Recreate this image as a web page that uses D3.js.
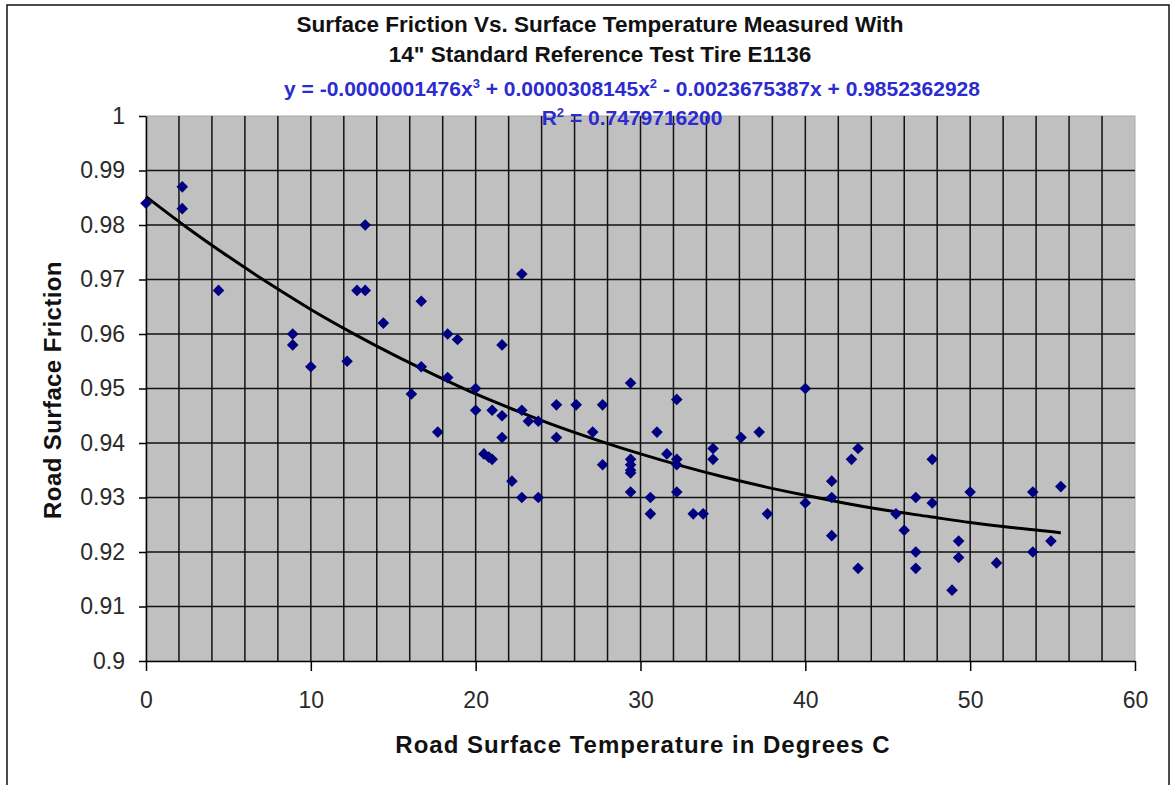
<!DOCTYPE html>
<meta charset="utf-8">
<style type="text/css">
body {
  margin: 0;
  background: #fff;
  font-family: Arial, "Liberation Sans", sans-serif;
}

.title {
  font-weight: bold;
  font-size: 22.5px;
  fill: #111;
}

.eq {
  font-weight: bold;
  font-size: 21px;
  fill: #2b2bd0;
}

.axis text {
  font-size: 23px;
  fill: #2a2a2a;
}

.axis path,
.axis line {
  stroke: #000;
  stroke-width: 1.5px;
}

.grid line {
  stroke: #111;
  stroke-width: 1.5px;
}

.label {
  font-weight: bold;
  font-size: 24px;
  fill: #111;
}
</style>
<body>
</body>

<script src="https://cdn.jsdelivr.net/npm/d3@7"></script>
<script>
// measured points: temperature (C) and friction
var temps = [0, 2.2, 2.2, 4.4, 8.9, 8.9, 10, 12.2, 12.8, 13.3, 13.3, 14.4,
  16.7, 18.3, 18.9, 21.6, 22.8, 16.7, 18.3, 16.1, 20, 29.4, 32.2, 40,
  17.7, 20, 21, 21.6, 21.6, 22.8, 23.2, 23.8, 24.9, 24.9, 26.1, 27.7, 27.1, 27.7,
  20.5, 20.8, 21, 22.2, 22.8, 23.8,
  29.4, 29.4, 29.4, 29.4, 29.4, 30.6, 30.6, 31, 31.6, 32.2, 32.2, 32.2,
  33.2, 33.8, 34.4, 34.4, 36.1, 37.2, 37.7,
  40, 41.6, 41.6, 41.6, 42.8, 43.2, 43.2, 45.5, 46, 46.7, 46.7, 46.7,
  47.7, 47.7, 48.9, 49.3, 49.3, 50, 51.6, 53.8, 53.8, 54.9, 55.5];
var friction = [0.984, 0.987, 0.983, 0.968, 0.960, 0.958, 0.954, 0.955, 0.968, 0.968, 0.980, 0.962,
  0.966, 0.960, 0.959, 0.958, 0.971, 0.954, 0.952, 0.949, 0.950, 0.951, 0.948, 0.950,
  0.942, 0.946, 0.946, 0.945, 0.941, 0.946, 0.944, 0.944, 0.947, 0.941, 0.947, 0.947, 0.942, 0.936,
  0.938, 0.9374, 0.937, 0.933, 0.930, 0.930,
  0.937, 0.936, 0.935, 0.9345, 0.931, 0.930, 0.927, 0.942, 0.938, 0.937, 0.936, 0.931,
  0.927, 0.927, 0.939, 0.937, 0.941, 0.942, 0.927,
  0.929, 0.933, 0.930, 0.923, 0.937, 0.939, 0.917, 0.927, 0.924, 0.930, 0.920, 0.917,
  0.937, 0.929, 0.913, 0.922, 0.919, 0.931, 0.918, 0.931, 0.920, 0.922, 0.932];

// trend line as drawn (3rd order polynomial fit)
var trendX = [0, 2.5, 5, 7.5, 10, 12.5, 15, 17.5, 20, 22.5, 25, 27.5, 30, 32.5,
  35, 37.5, 40, 42.5, 45, 47.5, 50, 52.5, 55, 55.5];
var trendY = [0.9852, 0.9795, 0.9742, 0.9692, 0.9645, 0.9602, 0.9562, 0.9525, 0.9490,
  0.9459, 0.9430, 0.9404, 0.9380, 0.9358, 0.9338, 0.9320, 0.9304, 0.9289, 0.9276,
  0.9265, 0.9254, 0.9245, 0.9237, 0.9235];

var xTicks = [0, 10, 20, 30, 40, 50, 60];
var xGrid = d3.range(2, 60, 2);
var yTicks = [0.9, 0.91, 0.92, 0.93, 0.94, 0.95, 0.96, 0.97, 0.98, 0.99, 1];

var titleLines = ["Surface Friction Vs. Surface Temperature Measured With",
  "14\" Standard Reference Test Tire E1136"];

var margin = { top: 116, right: 36, bottom: 124, left: 146 };
var W = 1171, H = 785;
var width = W - margin.left - margin.right;
var height = H - margin.top - margin.bottom;

var root = d3.select("body")
  .append("svg")
    .attr("width", W)
    .attr("height", H);

root.append("rect")
  .attr("x", 7).attr("y", 5)
  .attr("width", 1162).attr("height", 790)
  .attr("fill", "#fff")
  .attr("stroke", "#111")
  .attr("stroke-width", 1.5);

var svg = root.append("g")
  .attr("transform", "translate(" + margin.left + "," + margin.top + ")");

var xscale = d3.scaleLinear().domain([0, 60]).range([0, width]);
var yscale = d3.scaleLinear().domain([0.9, 1]).range([height, 0]);

svg.append("rect")
  .attr("width", width).attr("height", height)
  .attr("fill", "#c0c0c0")
  .attr("stroke", "#a8a8a8");

svg.append("g")
  .attr("class", "grid")
  .selectAll("line")
  .data(xGrid)
  .enter().append("line")
    .attr("x1", xscale).attr("x2", xscale)
    .attr("y1", 0).attr("y2", height);

svg.append("g")
  .attr("class", "grid")
  .selectAll("line")
  .data(yTicks.slice(1, -1))
  .enter().append("line")
    .attr("x1", 0).attr("x2", width)
    .attr("y1", yscale).attr("y2", yscale);

var xAxis = d3.axisBottom(xscale)
  .tickValues(xTicks)
  .tickSize(10)
  .tickSizeOuter(0)
  .tickPadding(21)
  .tickFormat(d3.format("d"));

var yAxis = d3.axisLeft(yscale)
  .tickValues(yTicks)
  .tickSize(7)
  .tickSizeOuter(0)
  .tickPadding(14)
  .tickFormat(function(d) { return d == 1 ? "1" : d3.format(".2~f")(d); });

svg.append("g")
  .attr("class", "x axis")
  .attr("transform", "translate(0," + height + ")")
  .call(xAxis);

svg.append("g")
  .attr("class", "y axis")
  .call(yAxis);

var line = d3.line()
  .x(function(d, i) { return xscale(trendX[i]); })
  .y(function(d, i) { return yscale(trendY[i]); })
  .curve(d3.curveMonotoneX);

svg.append("path")
  .attr("d", line(trendX))
  .attr("fill", "none")
  .attr("stroke", "#000")
  .attr("stroke-width", 3);

svg.selectAll("path.pt")
  .data(temps)
  .enter().append("path")
    .attr("class", "pt")
    .attr("d", "M0,-5.8L5.8,0L0,5.8L-5.8,0Z")
    .attr("fill", "#000080")
    .attr("transform", function(d, i) {
      return "translate(" + xscale(d) + "," + yscale(friction[i]) + ")";
    });

root.selectAll("text.title")
  .data(titleLines)
  .enter().append("text")
    .attr("class", "title")
    .attr("x", 600)
    .attr("y", function(d, i) { return 32 + i * 30; })
    .attr("text-anchor", "middle")
    .text(function(d) { return d; });

var eq = root.append("text")
  .attr("class", "eq")
  .attr("x", 632)
  .attr("y", 96)
  .attr("text-anchor", "middle");
eq.append("tspan").text("y = -0.0000001476x");
eq.append("tspan").attr("dy", -8).style("font-size", "13px").text("3");
eq.append("tspan").attr("dy", 8).text(" + 0.0000308145x");
eq.append("tspan").attr("dy", -8).style("font-size", "13px").text("2");
eq.append("tspan").attr("dy", 8).text(" - 0.0023675387x + 0.9852362928");

var r2 = root.append("text")
  .attr("class", "eq")
  .attr("x", 632)
  .attr("y", 125)
  .attr("text-anchor", "middle");
r2.append("tspan").text("R");
r2.append("tspan").attr("dy", -8).style("font-size", "13px").text("2");
r2.append("tspan").attr("dy", 8).text(" = 0.7479716200");

root.append("text")
  .attr("class", "label")
  .attr("x", 643)
  .attr("y", 753)
  .attr("text-anchor", "middle")
  .style("letter-spacing", "1px")
  .text("Road Surface Temperature in Degrees C");

root.append("text")
  .attr("class", "label")
  .attr("transform", "translate(61,390) rotate(-90)")
  .attr("text-anchor", "middle")
  .style("letter-spacing", "0.4px")
  .text("Road Surface Friction");
</script>
